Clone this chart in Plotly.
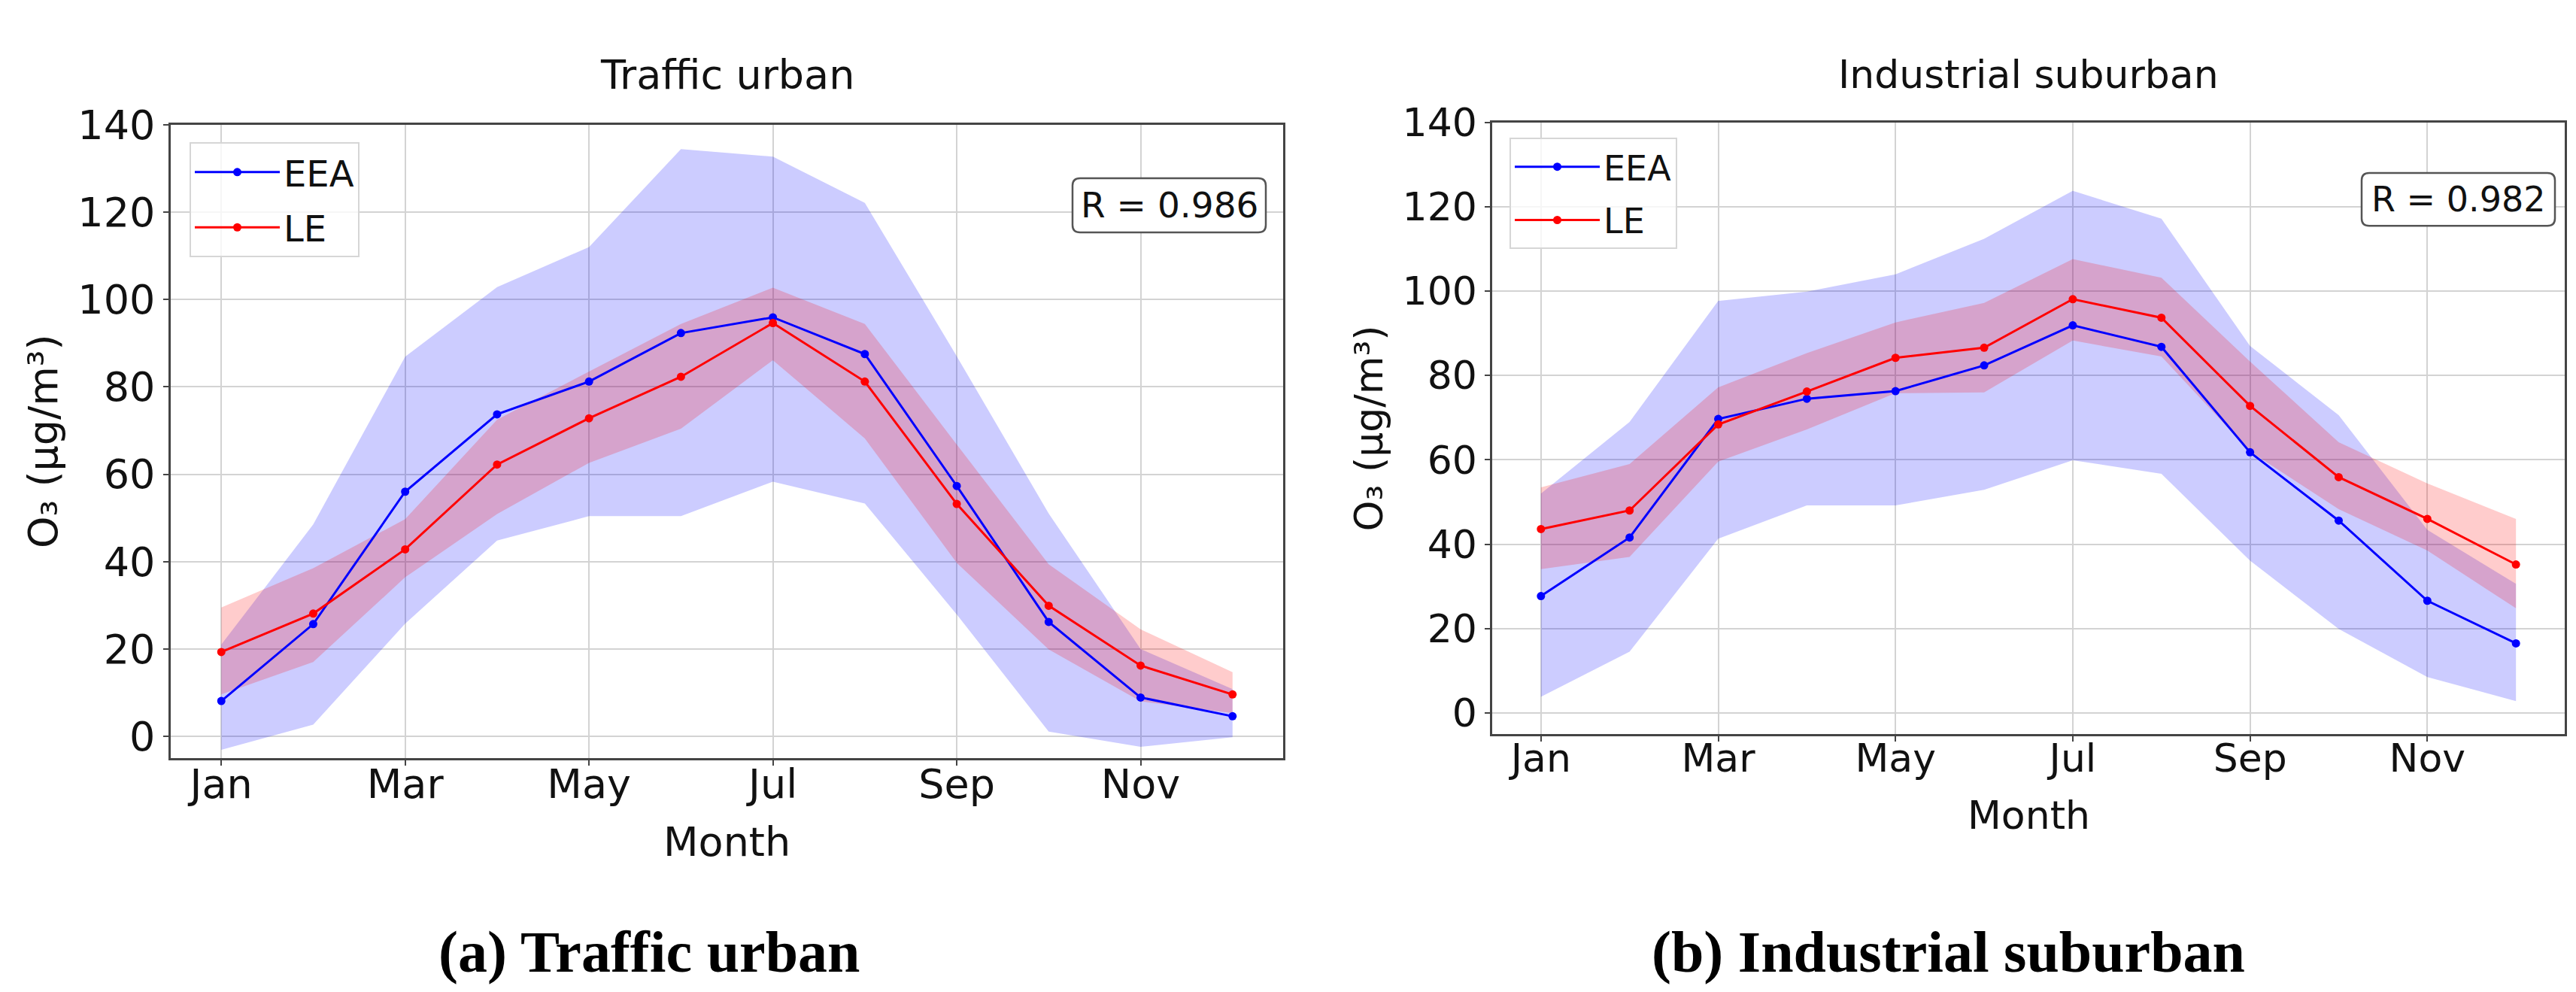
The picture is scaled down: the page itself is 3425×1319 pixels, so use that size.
import plotly.graph_objects as go

# ---------------- data ----------------
months = list(range(12))
tick_vals = [0, 2, 4, 6, 8, 10]
tick_text = ["Jan", "Mar", "May", "Jul", "Sep", "Nov"]

# (a) Traffic urban
tu_eea_mean = [8.1, 25.7, 56.0, 73.7, 81.2, 92.3, 95.9, 87.5, 57.3, 26.2, 8.9, 4.6]
tu_eea_up = [21.0, 48.5, 86.9, 102.8, 112.0, 134.4, 132.7, 122.1, 87.0, 51.0, 20.0, 10.8]
tu_eea_lo = [-3.1, 2.7, 25.8, 44.8, 50.4, 50.4, 58.3, 53.3, 27.9, 1.1, -2.4, -0.2]
tu_le_mean = [19.3, 28.1, 42.8, 62.2, 72.8, 82.3, 94.6, 81.2, 53.2, 29.9, 16.2, 9.6]
tu_le_up = [29.5, 38.5, 49.7, 72.5, 83.5, 94.4, 102.7, 94.4, 66.8, 39.4, 24.5, 14.7]
tu_le_lo = [9.6, 17.0, 36.4, 50.9, 62.6, 70.4, 86.1, 68.2, 39.7, 19.9, 8.0, 5.3]
tu_r = "R = 0.986"

# (b) Industrial suburban
is_eea_mean = [27.7, 41.6, 69.7, 74.5, 76.3, 82.4, 91.9, 86.8, 61.8, 45.6, 26.6, 16.5]
is_eea_up = [52.0, 69.0, 97.7, 99.9, 104.0, 112.4, 123.8, 117.2, 87.0, 70.6, 43.4, 30.6]
is_eea_lo = [3.8, 14.5, 41.3, 49.2, 49.2, 52.9, 59.9, 56.7, 36.1, 19.9, 8.5, 2.8]
is_le_mean = [43.6, 48.0, 68.4, 76.2, 84.2, 86.6, 98.1, 93.7, 72.8, 55.9, 46.0, 35.2]
is_le_up = [53.5, 59.0, 77.2, 85.3, 92.6, 97.2, 107.6, 103.2, 83.3, 64.2, 54.4, 46.0]
is_le_lo = [34.1, 37.0, 59.6, 67.2, 75.8, 76.0, 88.3, 84.5, 62.0, 48.3, 38.5, 24.8]
is_r = "R = 0.982"

titles = ["Traffic urban", "Industrial suburban"]
captions = ["(a) Traffic urban", "(b) Industrial suburban"]

# ---------------- layout helpers ----------------
W, H = 3425, 1319
def px(x):
    return x / W
def py(y):
    return 1 - y / H

FONT = "DejaVu Sans"
BLUE = "#0000ff"
RED = "#ff0000"

fig = go.Figure()

def add_panel(xa, ya, legend_name, eea_m, eea_u, eea_l, le_m, le_u, le_l):
    xx = months + months[::-1]
    fig.add_trace(go.Scatter(
        x=xx, y=eea_u + eea_l[::-1], fill="toself", fillcolor="rgba(0,0,255,0.2)",
        line=dict(width=0), mode="lines", showlegend=False, hoverinfo="skip",
        xaxis=xa, yaxis=ya))
    fig.add_trace(go.Scatter(
        x=xx, y=le_u + le_l[::-1], fill="toself", fillcolor="rgba(255,0,0,0.2)",
        line=dict(width=0), mode="lines", showlegend=False, hoverinfo="skip",
        xaxis=xa, yaxis=ya))
    fig.add_trace(go.Scatter(
        x=months, y=eea_m, mode="lines+markers", name="EEA",
        line=dict(color=BLUE, width=3), marker=dict(color=BLUE, size=11),
        xaxis=xa, yaxis=ya, legend=legend_name, legendgroup=legend_name + "a"))
    fig.add_trace(go.Scatter(
        x=months, y=le_m, mode="lines+markers", name="LE",
        line=dict(color=RED, width=3), marker=dict(color=RED, size=11),
        xaxis=xa, yaxis=ya, legend=legend_name, legendgroup=legend_name + "b"))

add_panel("x", "y", "legend", tu_eea_mean, tu_eea_up, tu_eea_lo, tu_le_mean, tu_le_up, tu_le_lo)
add_panel("x2", "y2", "legend2", is_eea_mean, is_eea_up, is_eea_lo, is_le_mean, is_le_up, is_le_lo)

def xaxis(domain, anchor, fs):
    return dict(domain=domain, anchor=anchor, range=[-0.55, 11.55],
                tickmode="array", tickvals=tick_vals, ticktext=tick_text,
                showgrid=True, gridcolor="#d3d3d3", gridwidth=2,
                showline=True, linecolor="#444444", linewidth=2.5, mirror=True,
                ticks="outside", ticklen=7, tickwidth=2, tickcolor="#444444",
                ticklabelstandoff=-22,
                tickfont=dict(family=FONT, size=fs, color="#111111"), zeroline=False)

def yaxis(domain, anchor, fs):
    return dict(domain=domain, anchor=anchor, range=[-5, 140],
                tickmode="array", tickvals=[0, 20, 40, 60, 80, 100, 120, 140],
                showgrid=True, gridcolor="#d3d3d3", gridwidth=2,
                showline=True, linecolor="#444444", linewidth=2.5, mirror=True,
                ticks="outside", ticklen=7, tickwidth=2, tickcolor="#444444",
                tickfont=dict(family=FONT, size=fs, color="#111111"), zeroline=False)

L = dict(x0=219, x1=1698, y0=130, y1=994)
R = dict(x0=1976, x1=3402, y0=127, y1=961)
FS_L, FS_R = 54, 52

def legend_cfg(x, y, fs):
    return dict(x=px(x), y=py(y), xanchor="left", yanchor="top",
                bgcolor="rgba(255,255,255,0.8)", bordercolor="#d6d6d6", borderwidth=2,
                font=dict(family=FONT, size=fs, color="#111111"),
                itemwidth=113, tracegroupgap=8)

fig.update_layout(
    width=W, height=H, autosize=False,
    margin=dict(l=0, r=0, t=0, b=0),
    paper_bgcolor="white", plot_bgcolor="white",
    font=dict(family=FONT, color="#111111"),
    xaxis=xaxis([px(L["x0"]), px(L["x1"])], "y", FS_L),
    yaxis=yaxis([py(L["y1"]), py(L["y0"])], "x", FS_L),
    xaxis2=xaxis([px(R["x0"]), px(R["x1"])], "y2", FS_R),
    yaxis2=yaxis([py(R["y1"]), py(R["y0"])], "x2", FS_R),
    legend=legend_cfg(244, 154, 48),
    legend2=legend_cfg(1999, 148, 46),
)

# rounded R boxes
def rounded_box(x0, y0, x1, y1, r=10):
    rx, ry = r / W, r / H
    X0, X1 = px(x0), px(x1)
    Yt, Yb = py(y0), py(y1)
    path = (f"M {X0+rx},{Yb} L {X1-rx},{Yb} Q {X1},{Yb} {X1},{Yb+ry} "
            f"L {X1},{Yt-ry} Q {X1},{Yt} {X1-rx},{Yt} "
            f"L {X0+rx},{Yt} Q {X0},{Yt} {X0},{Yt-ry} "
            f"L {X0},{Yb+ry} Q {X0},{Yb} {X0+rx},{Yb} Z")
    fig.add_shape(type="path", path=path, xref="paper", yref="paper",
                  fillcolor="white", line=dict(color="#555555", width=2.5), layer="above")

rounded_box(1418, 203, 1675, 277)
rounded_box(3132, 196, 3389, 268)
fig.add_annotation(text=tu_r, x=px((1418 + 1675) / 2), y=py(240), xref="paper", yref="paper",
                   showarrow=False, font=dict(family=FONT, size=47, color="#111111"),
                   xanchor="center", yanchor="middle")
fig.add_annotation(text=is_r, x=px((3132 + 3389) / 2), y=py(232), xref="paper", yref="paper",
                   showarrow=False, font=dict(family=FONT, size=46, color="#111111"),
                   xanchor="center", yanchor="middle")

# titles, axis titles, captions
cxL = (L["x0"] + L["x1"]) / 2
cxR = (R["x0"] + R["x1"]) / 2
for txt, cx, fs in [(titles[0], cxL, FS_L), (titles[1], cxR, FS_R)]:
    fig.add_annotation(text=txt, x=px(cx), y=py(62), xref="paper", yref="paper",
                       showarrow=False, font=dict(family=FONT, size=fs, color="#111111"),
                       xanchor="center", yanchor="middle")
for cx, cy, fs in [(cxL, 1108, FS_L), (cxR, 1072, FS_R)]:
    fig.add_annotation(text="Month", x=px(cx), y=py(cy), xref="paper", yref="paper",
                       showarrow=False, font=dict(family=FONT, size=fs, color="#111111"),
                       xanchor="center", yanchor="middle")
for cx, cy, fs in [(50, 562, FS_L), (1812, 544, FS_R)]:
    fig.add_annotation(text="O₃ (µg/m³)", x=px(cx), y=py(cy), xref="paper", yref="paper",
                       showarrow=False, textangle=-90,
                       font=dict(family=FONT, size=fs, color="#111111"),
                       xanchor="center", yanchor="middle")
for txt, cx in [(captions[0], 855), (captions[1], 2582)]:
    fig.add_annotation(text="<b>" + txt + "</b>", x=px(cx), y=py(1258), xref="paper", yref="paper",
                       showarrow=False, font=dict(family="Liberation Serif", size=78, color="#000000"),
                       xanchor="center", yanchor="middle")

fig.write_html("out.html")
